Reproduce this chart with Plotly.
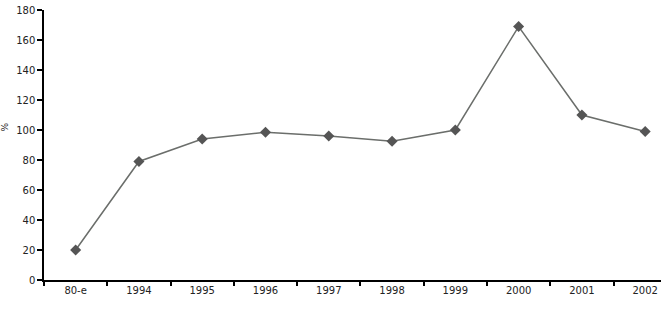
import plotly.graph_objects as go

categories = ["80-e", "1994", "1995", "1996", "1997", "1998", "1999", "2000", "2001", "2002"]
values = [20, 79, 94, 98.5, 96, 92.5, 100, 169, 110, 99]
y_ticks = [0, 20, 40, 60, 80, 100, 120, 140, 160, 180]

fig = go.Figure(go.Scatter(
    x=categories, y=values, mode="lines+markers",
    line=dict(color="#6b6e6b", width=1.5),
    marker=dict(symbol="diamond", size=8.5, color="#555555"),
))

font = dict(family="DejaVu Sans", size=10, color="#222222")
fig.update_layout(
    width=661, height=312,
    margin=dict(l=44, r=0, t=10, b=32),
    paper_bgcolor="white", plot_bgcolor="white",
    showlegend=False,
    font=font,
    annotations=[dict(
        text="%", xref="paper", yref="paper", x=-0.063, y=0.565,
        xanchor="center", yanchor="middle",
        showarrow=False, textangle=-90,
        font=dict(family="DejaVu Sans", size=9, color="#222222"),
    )],
)
fig.update_xaxes(
    type="category", range=[-0.5, 9.25],
    showline=True, linecolor="black", linewidth=1.5,
    ticks="outside", ticklen=4, tickcolor="black", tickwidth=1.5,
    tickson="boundaries", showgrid=False, zeroline=False,
    tickfont=font,
)
fig.update_yaxes(
    range=[0, 180], tickvals=y_ticks,
    showline=True, linecolor="black", linewidth=1.5,
    ticks="outside", ticklen=5, tickcolor="black", tickwidth=1.5,
    showgrid=False, zeroline=False,
    tickfont=font,
)
fig.write_html("out.html")
